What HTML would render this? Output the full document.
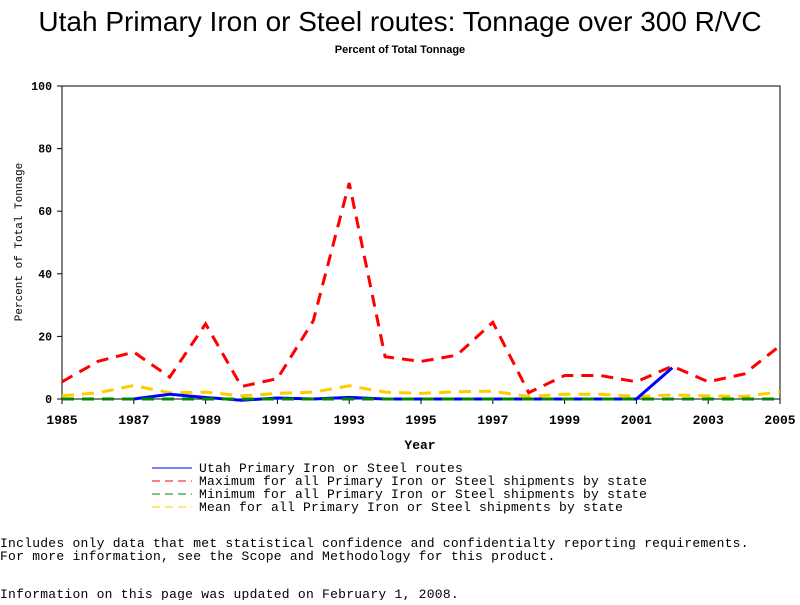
<!DOCTYPE html>
<html><head><meta charset="utf-8"><style>
body{margin:0;background:#fff;width:800px;height:600px;overflow:hidden}
svg text{font-family:"Liberation Mono",monospace}
</style></head><body>
<svg width="800" height="600">
<text x="400" y="31" text-anchor="middle" style="font-family:'Liberation Sans',sans-serif;font-size:28px">Utah Primary Iron or Steel routes: Tonnage over 300 R/VC</text>
<text x="400" y="53" text-anchor="middle" style="font-family:'Liberation Sans',sans-serif;font-size:11px;font-weight:bold">Percent of Total Tonnage</text>
<rect x="62" y="86" width="718" height="313" fill="none" stroke="#000"/>
<g id="axes"></g>
<g id="series"></g>
<text x="420" y="449" text-anchor="middle" font-size="13" font-weight="bold">Year</text>
<text transform="translate(22,242) rotate(-90)" text-anchor="middle" font-size="11">Percent of Total Tonnage</text>
<g font-size="13" letter-spacing="0.2">
<line x1="152" y1="468" x2="192" y2="468" stroke="#00f"/>
<text x="199" y="472">Utah Primary Iron or Steel routes</text>
<line x1="152" y1="481" x2="192" y2="481" stroke="#f00" stroke-dasharray="8,5"/>
<text x="199" y="485">Maximum for all Primary Iron or Steel shipments by state</text>
<line x1="152" y1="494" x2="192" y2="494" stroke="#080" stroke-dasharray="8,5"/>
<text x="199" y="498">Minimum for all Primary Iron or Steel shipments by state</text>
<line x1="152" y1="507" x2="192" y2="507" stroke="#fc0" stroke-dasharray="8,5"/>
<text x="199" y="511">Mean for all Primary Iron or Steel shipments by state</text>
</g>
<g font-size="13" letter-spacing="0.25">
<text x="0" y="547">Includes only data that met statistical confidence and confidentialty reporting requirements.</text>
<text x="0" y="560">For more information, see the Scope and Methodology for this product.</text>
<text x="0" y="598">Information on this page was updated on February 1, 2008.</text>
</g>
</svg>
<script>
const years=[1985,1986,1987,1988,1989,1990,1991,1992,1993,1994,1995,1996,1997,1998,1999,2000,2001,2002,2003,2004,2005];
const maxVals=[5.5,12,15,7,24,4,6.5,25,69,13.5,12,14,24.5,2,7.5,7.5,5.5,10.5,5.5,8,17];
const minVals=[0,0,0,0,0,0,0,0,0,0,0,0,0,0,0,0,0,0,0,0,0];
const meanVals=[1,2,4.3,2,2.2,1,1.8,2.2,4.2,2.2,1.8,2.3,2.5,0.8,1.5,1.5,0.8,1.3,1,0.8,2.3];
const utahYears=[1987,1988,1989,1990,1991,1992,1993,1994,1995,1996,1997,1998,1999,2000,2001,2002];
const utahVals=[0,1.5,0.5,-0.4,0.3,0,0.5,0,0,0,0,0,0,0,0,10];
const xTicks=[1985,1987,1989,1991,1993,1995,1997,1999,2001,2003,2005];
const yTicks=[0,20,40,60,80,100];
const NS='http://www.w3.org/2000/svg';
const X=v=>62+(v-1985)*718/20, Y=v=>399-v*3.13;
const ax=document.getElementById('axes'), sg=document.getElementById('series');
function mk(tag,attrs,parent,txt){const e=document.createElementNS(NS,tag);for(const k in attrs)e.setAttribute(k,attrs[k]);if(txt!==undefined)e.textContent=txt;parent.appendChild(e);return e;}
xTicks.forEach(t=>{
 const l=mk('line',{x1:X(t),x2:X(t),y1:399,y2:404,stroke:'#000'},ax);
 
 
 const tx=mk('text',{x:X(t),y:424,'text-anchor':'middle','font-size':13,'font-weight':'bold'},ax,t);
 
 
});
yTicks.forEach(t=>{
 const l=mk('line',{x1:57,x2:62,y1:Y(t),y2:Y(t),stroke:'#000'},ax);
 
 
 const tx=mk('text',{x:52,y:Y(t)+4,'text-anchor':'end','font-size':11.5,'font-weight':'bold'},ax,t);
 
 
});
function line(xs,ys,color,dash,name){
 const p=mk('polyline',{points:xs.map((x,i)=>X(x)+','+Y(ys[i])).join(' '),fill:'none',stroke:color,'stroke-width':3,'stroke-dasharray':dash||'none'},sg);
 
 
}
line(years,meanVals,'#fc0','12,8','mean-line');
line(years,maxVals,'#f00','12,8','max-line');
line(utahYears,utahVals,'#00f','','utah-line');
line(years,minVals,'#080','12,8','min-line');
</script>
</body></html>
